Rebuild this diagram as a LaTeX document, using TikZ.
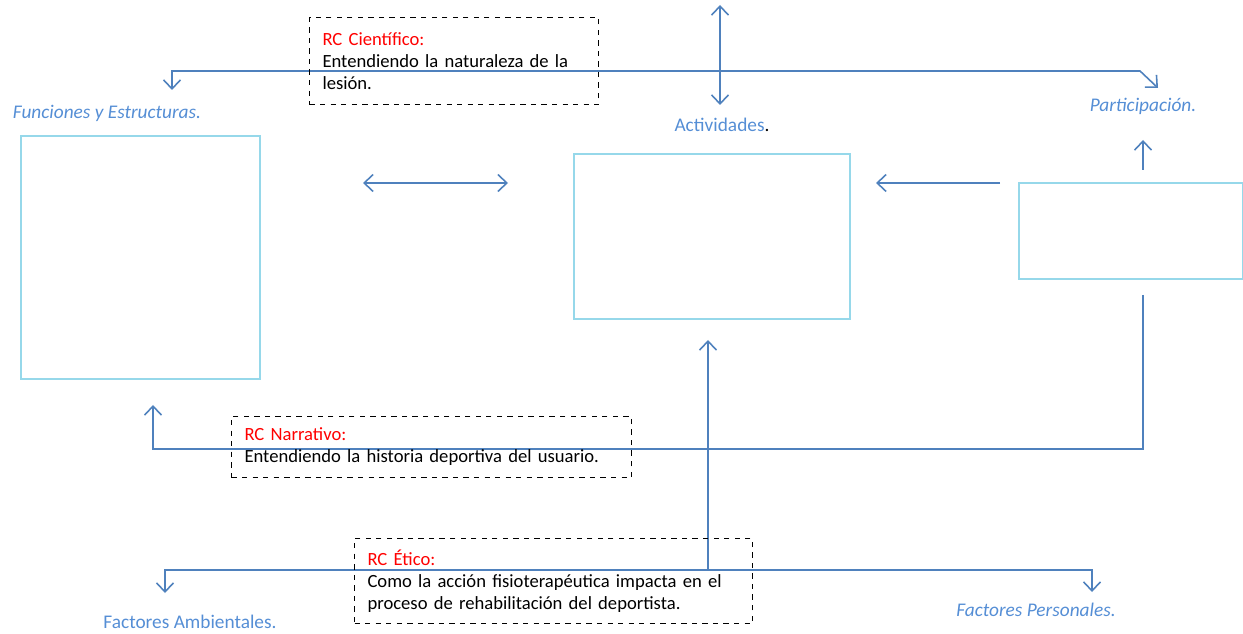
\documentclass[tikz,border=0pt]{standalone}
\usepackage{fontspec}
\setmainfont{Carlito}
\usetikzlibrary{arrows.meta}
\definecolor{cajacian}{RGB}{150,216,234}
\definecolor{flechaazul}{RGB}{79,129,189}
\definecolor{textoazul}{RGB}{85,142,213}
\definecolor{rcrojo}{RGB}{255,0,0}
\tikzset{
  caja/.style={draw=cajacian, line width=0.9pt, inner sep=0pt, anchor=north west},
  etiqueta/.style={text=textoazul, font=\fontsize{11}{12}\selectfont, inner sep=0pt},
  flecha/.style={draw=flechaazul, line width=0.9pt, -{Straight Barb[length=1.8mm,width=3.4mm]}},
  dobleflecha/.style={flecha, {Straight Barb[length=1.8mm,width=3.4mm]}-{Straight Barb[length=1.8mm,width=3.4mm]}},
  linea/.style={draw=flechaazul, line width=0.9pt},
  rcbox/.style={draw, dashed, line width=0.6pt, anchor=north west, align=left,
    inner xsep=0.26cm, inner ysep=0.14cm, font=\fontsize{10.6}{12.5}\selectfont}
}
\begin{document}
\begin{tikzpicture}[x=0.02cm, y=-0.02cm]
  \useasboundingbox (0,0) rectangle (1243,634);

  % cajas
  \node[caja, minimum width=4.78cm, minimum height=4.86cm] (fe) at (20,135) {};
  \node[caja, minimum width=5.52cm, minimum height=3.30cm] (act) at (573,153) {};
  \node[caja, minimum width=4.48cm, minimum height=1.92cm] (part) at (1018,182) {};

  % etiquetas
  \node[etiqueta] (lfe) at (107,113) {\itshape Funciones y Estructuras.};
  \node[etiqueta] (lact) at (722,125) {Actividades\textcolor{black}{.}};
  \node[etiqueta] (lpart) at (1143,106) {\itshape Participación.};
  \node[etiqueta] (lamb) at (190,622) {Factores Ambientales.};
  \node[etiqueta] (lpers) at (1036,610) {\itshape Factores Personales.};

  % puntos de las flechas
  \coordinate (tizq) at (172,90);
  \coordinate (tder) at (1140,71);
  \coordinate (tpunta) at (1158,88);
  \coordinate (actarr) at (720,5);
  \coordinate (actab) at (720,105);
  \coordinate (feder) at (363,183);
  \coordinate (actizq) at (508,183);
  \coordinate (partizq) at (1000,183);
  \coordinate (actder) at (876,183);
  \coordinate (partarr) at (1143,170);
  \coordinate (partlab) at (1143,140);
  \coordinate (nini) at (1143,295);
  \coordinate (nesq) at (153,449);
  \coordinate (nfin) at (153,405);
  \coordinate (eini) at (708,570);
  \coordinate (efin) at (708,340);
  \coordinate (bizq) at (165,593);
  \coordinate (bder) at (1092,570);
  \coordinate (bfin) at (1092,592);

  % conectores
  \draw[dobleflecha] (tizq) |- (tder) -- (tpunta);
  \draw[dobleflecha] (actarr) -- (actab);
  \draw[dobleflecha] (feder) -- (actizq);
  \draw[flecha] (partizq) -- (actder);
  \draw[flecha] (partarr) -- (partlab);
  \draw[flecha] (nini) |- (nesq) -- (nfin);
  \draw[flecha] (eini) -- (efin);
  \draw[dobleflecha] (bizq) |- (bder) -- (bfin);

  % razonamientos clinicos
  \node[rcbox, text width=5.26cm, minimum height=1.74cm] (rccien) at (309,17)
    {\textcolor{rcrojo}{RC Científico:}\\Entendiendo la naturaleza de la\\lesión.};
  \node[rcbox, text width=7.48cm, minimum height=1.22cm] (rcnarr) at (231,416)
    {\textcolor{rcrojo}{RC Narrativo:}\\Entendiendo la historia deportiva del usuario.};
  \node[rcbox, text width=7.44cm, minimum height=1.70cm] (rcetico) at (354,538)
    {\textcolor{rcrojo}{RC Ético:}\\Como la acción fisioterapéutica impacta en el\\proceso de rehabilitación del deportista.};
\end{tikzpicture}
\end{document}
